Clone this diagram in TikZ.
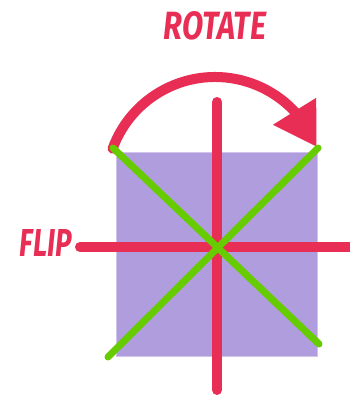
\documentclass[tikz,border=0pt]{standalone}
\usepackage{fontspec}
\setmainfont{Fira Sans}
\usetikzlibrary{arrows.meta,bending,calc}
\definecolor{rred}{HTML}{E92E55}
\definecolor{rpurple}{HTML}{B09DDE}
\definecolor{rgreen}{HTML}{66CC00}
\tikzset{
  redline/.style={draw=rred,line width=10pt,line cap=round},
  greenline/.style={draw=rgreen,line width=7pt,line cap=round},
  lbl/.style={text=rred,inner sep=0pt,font=\bfseries\itshape}
}
\begin{document}
\begin{tikzpicture}[x=1pt,y=1pt]
\useasboundingbox (0,0) rectangle (349,400);
% square
\fill[rpurple,draw=rpurple!60!white,line width=1pt] (116,43) rectangle (317,247);
% rotate arc
\coordinate (arcstart) at ($(215,214)+(160:109)$);
\draw[redline,-{Triangle[length=42pt,width=48pt,flex]}] (arcstart) arc[start angle=160,end angle=21,radius=109];
% red axes
\coordinate (vt) at (217,298);
\coordinate (vb) at (217,10);
\coordinate (hl) at (80,153);
\coordinate (hr) at (360,153);
\draw[redline] (vt) -- (vb);
\draw[redline] (hl) -- (hr);
% green diagonals
\coordinate (d1a) at (113,252);
\coordinate (d1b) at (319,56);
\coordinate (d2a) at (318,252);
\coordinate (d2b) at (108,43);
\draw[greenline] (d1a) -- (d1b);
\draw[greenline] (d2a) -- (d2b);
% labels
\node[lbl] (rot) at (215,374) {\resizebox{102pt}{28pt}{ROTATE}};
\node[lbl] (flip) at (46,157) {\resizebox{52pt}{27pt}{FLIP}};
\end{tikzpicture}
\end{document}
